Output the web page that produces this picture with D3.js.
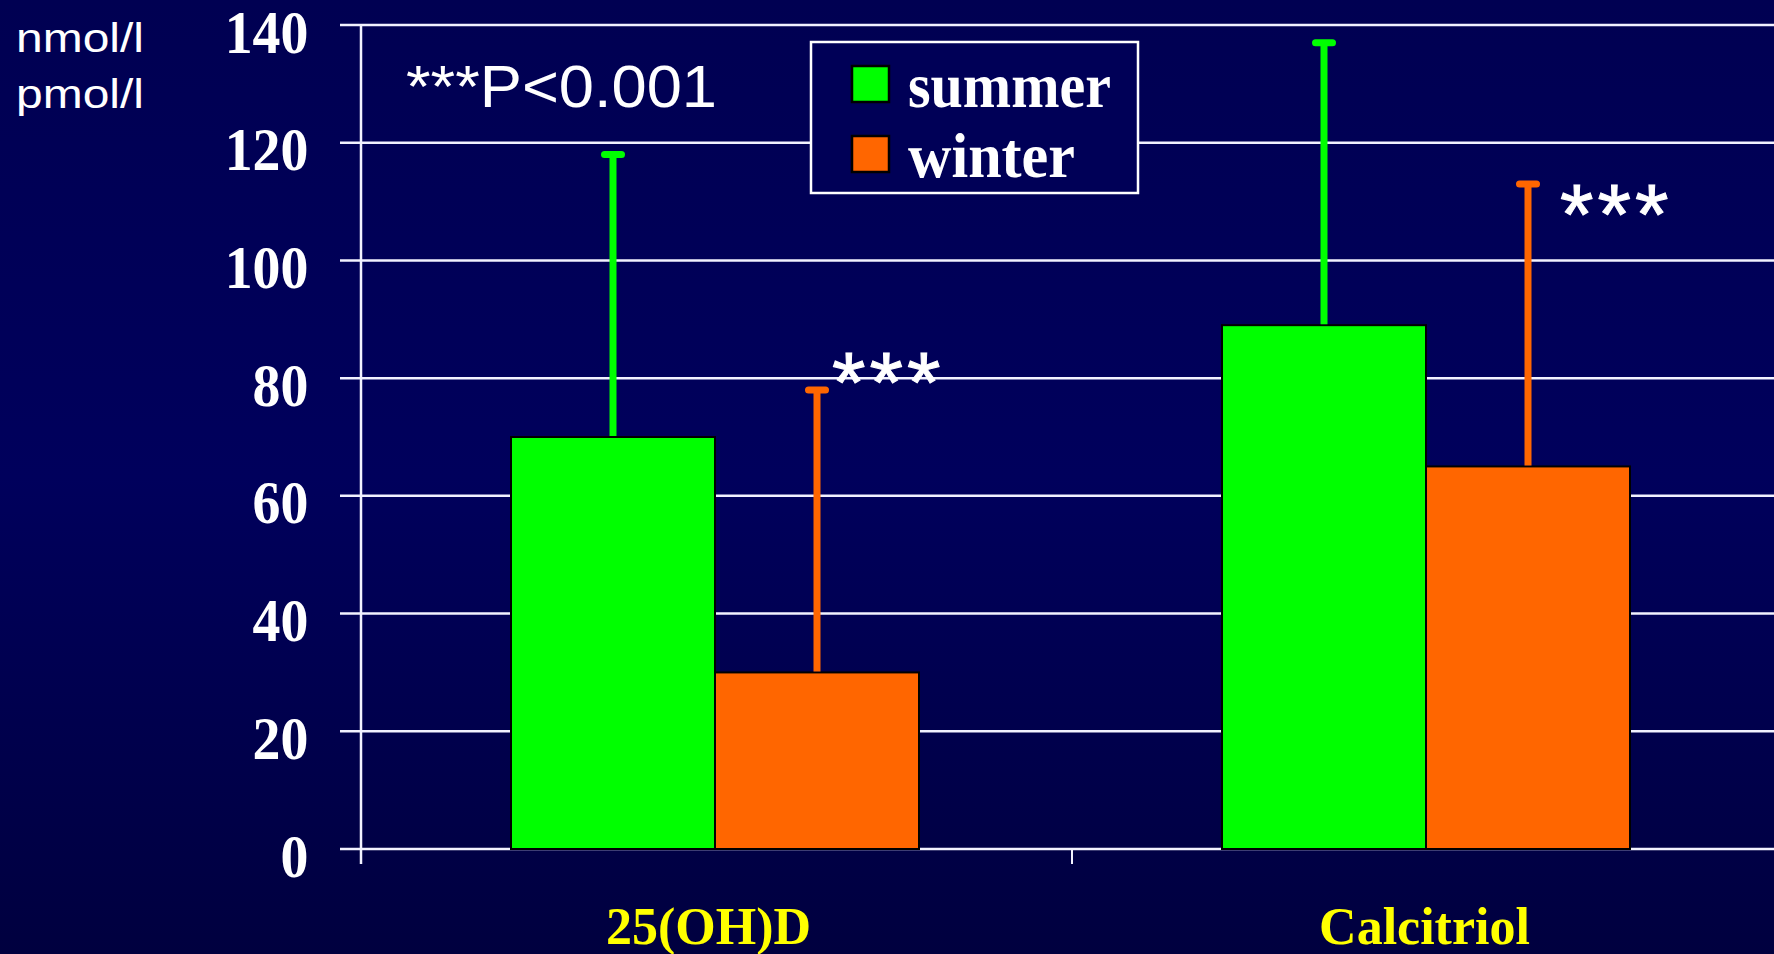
<!DOCTYPE html>
<html>
<head>
<meta charset="utf-8">
<script src="https://cdn.jsdelivr.net/npm/d3@7"></script>
<style>
  html, body { margin: 0; padding: 0; background: #000050; overflow: hidden; }
  svg { display: block; }
</style>
</head>
<body>
<svg id="chart" width="1774" height="954"></svg>
<script>
// ---- data ----
const categories = ["25(OH)D", "Calcitriol"];
const seriesNames = ["summer", "winter"];
const summerValues = [70, 89];
const winterValues = [30, 65];
const summerSD = [48, 48];
const winterSD = [48, 48];
const yTickValues = [0, 20, 40, 60, 80, 100, 120, 140];
const unitLabels = ["nmol/l", "pmol/l"];
const significance = ["***", "***"];   // winter vs summer, per category
const pNote = "***P<0.001";

const seriesColors = { summer: "#00ff00", winter: "#ff6600" };
const seriesValues = { summer: summerValues, winter: winterValues };
const seriesSD = { summer: summerSD, winter: winterSD };

// ---- layout ----
const W = 1774, H = 954;
const svg = d3.select("#chart");

const defs = svg.append("defs");
const grad = defs.append("linearGradient").attr("id", "bg").attr("x1", 0).attr("y1", 0).attr("x2", 0).attr("y2", 1);
grad.append("stop").attr("offset", "0%").attr("stop-color", "#000052");
grad.append("stop").attr("offset", "50%").attr("stop-color", "#00005c");
grad.append("stop").attr("offset", "100%").attr("stop-color", "#00003f");
svg.append("rect").attr("width", W).attr("height", H).attr("fill", "url(#bg)");

const axisX = 361;
const x = d3.scaleBand().domain(categories).range([axisX, axisX + 2 * 711]).paddingInner(0).paddingOuter(0);
const xs = d3.scaleBand().domain(seriesNames).range([150, 558]);
const y = d3.scaleLinear().domain([0, 140]).range([849, 25]);

// gridlines
svg.append("g").selectAll("line").data(yTickValues).join("line")
  .attr("x1", 340).attr("x2", W)
  .attr("y1", d => y(d)).attr("y2", d => y(d))
  .attr("stroke", "#f2f2ff").attr("stroke-width", 2.5);

// y axis line + labels (via d3 axis)
const yAxis = svg.append("g").attr("transform", `translate(${axisX},0)`)
  .call(d3.axisLeft(y).tickValues(yTickValues).tickSize(0).tickPadding(0));
yAxis.select(".domain").remove();
yAxis.selectAll("text")
  .attr("font-family", "'Liberation Serif', 'Times New Roman', serif")
  .attr("font-weight", "bold")
  .attr("font-size", 62)
  .attr("fill", "#ffffff")
  .attr("text-anchor", "end")
  .attr("dy", null)
  .attr("x", -58.5)
  .attr("y", 27)
  .attr("transform", "scale(0.9,1)");

svg.append("line").attr("x1", axisX).attr("x2", axisX).attr("y1", y(140)).attr("y2", y(0) + 15)
  .attr("stroke", "#f2f2ff").attr("stroke-width", 2.5);

// category ticks
svg.append("g").selectAll("line").data(categories.slice(1)).join("line")
  .attr("x1", d => x(d)).attr("x2", d => x(d))
  .attr("y1", y(0)).attr("y2", y(0) + 15)
  .attr("stroke", "#f2f2ff").attr("stroke-width", 2);

// category labels
svg.append("g").selectAll("text").data(categories).join("text")
  .attr("x", (d, i) => x(d) + x.bandwidth() / 2 - (i === 0 ? 8 : 3))
  .attr("y", 944)
  .attr("text-anchor", "middle")
  .attr("font-family", "'Liberation Serif', 'Times New Roman', serif")
  .attr("font-weight", "bold")
  .attr("font-size", 52)
  .attr("fill", "#ffffff".replace("ffffff", "ffff00"))
  .text(d => d);

// bars
const barData = [];
categories.forEach((c, i) => seriesNames.forEach(s => barData.push({ c, s, v: seriesValues[s][i], sd: seriesSD[s][i] })));

const gBars = svg.append("g");
gBars.selectAll("rect").data(barData).join("rect")
  .attr("x", d => x(d.c) + xs(d.s))
  .attr("y", d => y(d.v))
  .attr("width", xs.bandwidth())
  .attr("height", d => y(0) - y(d.v))
  .attr("fill", d => seriesColors[d.s])
  .attr("stroke", "#000000").attr("stroke-width", 2);

// error bars
const gErr = svg.append("g");
gErr.selectAll("line.stem").data(barData).join("line").attr("class", "stem")
  .attr("x1", d => x(d.c) + xs(d.s) + xs.bandwidth() / 2)
  .attr("x2", d => x(d.c) + xs(d.s) + xs.bandwidth() / 2)
  .attr("y1", d => y(d.v) - 1)
  .attr("y2", d => y(d.v + d.sd))
  .attr("stroke", d => seriesColors[d.s]).attr("stroke-width", 7);
gErr.selectAll("line.cap").data(barData).join("line").attr("class", "cap")
  .attr("x1", d => x(d.c) + xs(d.s) + xs.bandwidth() / 2 - 8.5)
  .attr("x2", d => x(d.c) + xs(d.s) + xs.bandwidth() / 2 + 8.5)
  .attr("y1", d => y(d.v + d.sd))
  .attr("y2", d => y(d.v + d.sd))
  .attr("stroke", d => seriesColors[d.s]).attr("stroke-width", 7).attr("stroke-linecap", "round");

// significance stars
const starOffsets = [15, 32];
svg.append("g").selectAll("text").data(categories).join("text")
  .attr("x", (d, i) => x(d) + xs("winter") + xs.bandwidth() / 2 + starOffsets[i])
  .attr("y", (d, i) => y(winterValues[i] + winterSD[i]) + (i === 0 ? 22 : 60))
  .attr("font-family", "'Liberation Sans', Arial, sans-serif")
  .attr("font-size", 86)
  .attr("letter-spacing", 4)
  .attr("fill", "#ffffff")
  .attr("stroke", "#ffffff").attr("stroke-width", 1)
  .text((d, i) => significance[i]);

// P note
svg.append("text")
  .attr("x", 406).attr("y", 107)
  .attr("font-family", "'Liberation Sans', Arial, sans-serif")
  .attr("font-size", 59)
  .attr("fill", "#ffffff")
  .attr("textLength", 311).attr("lengthAdjust", "spacingAndGlyphs")
  .text(pNote);

// unit labels
svg.append("g").selectAll("text").data(unitLabels).join("text")
  .attr("x", 16).attr("y", (d, i) => 52 + i * 56)
  .attr("font-family", "'Liberation Sans', Arial, sans-serif")
  .attr("font-size", 40)
  .attr("fill", "#ffffff")
  .attr("textLength", 128).attr("lengthAdjust", "spacingAndGlyphs")
  .text(d => d);

// legend
const lg = svg.append("g");
lg.append("rect").attr("x", 811).attr("y", 42).attr("width", 327).attr("height", 151)
  .attr("fill", "#000057").attr("stroke", "#ffffff").attr("stroke-width", 2.5);
const legendTextLen = { summer: 203, winter: 167 };
seriesNames.forEach((s, i) => {
  lg.append("rect").attr("x", 852).attr("y", 66 + i * 70).attr("width", 37).attr("height", 36)
    .attr("fill", seriesColors[s]).attr("stroke", "#000000").attr("stroke-width", 2.5);
  lg.append("text").attr("x", 908).attr("y", 107 + i * 70)
    .attr("font-family", "'Liberation Serif', 'Times New Roman', serif")
    .attr("font-weight", "bold").attr("font-size", 64).attr("fill", "#ffffff")
    .attr("textLength", legendTextLen[s]).attr("lengthAdjust", "spacingAndGlyphs")
    .text(s);
});
</script>
</body>
</html>
